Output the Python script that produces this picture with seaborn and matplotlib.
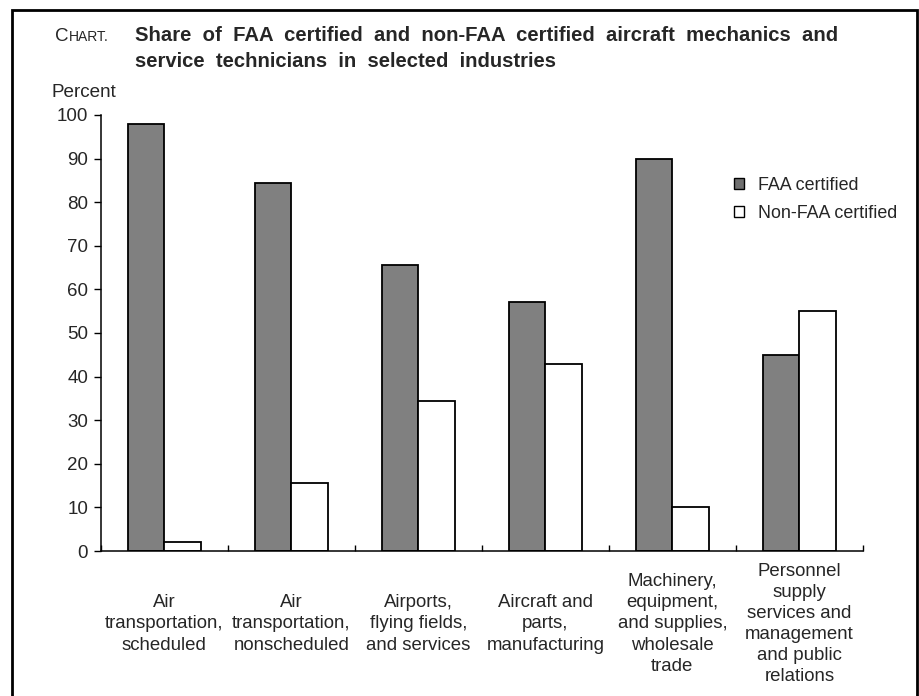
import numpy as np
import pandas as pd
import matplotlib.pyplot as plt
from matplotlib.patches import Patch, Rectangle
import seaborn as sns

sns.set_theme(style="white")
plt.rcParams["font.family"] = ["Liberation Sans", "DejaVu Sans"]

# ---------------------------------------------------------------------------
# Data
# ---------------------------------------------------------------------------
industries = [
    "Air\ntransportation,\nscheduled",
    "Air\ntransportation,\nnonscheduled",
    "Airports,\nflying fields,\nand services",
    "Aircraft and\nparts,\nmanufacturing",
    "Machinery,\nequipment,\nand supplies,\nwholesale\ntrade",
    "Personnel\nsupply\nservices and\nmanagement\nand public\nrelations",
]
faa_certified = [98.0, 84.3, 65.7, 57.1, 89.9, 44.9]
non_faa_certified = [2.0, 15.7, 34.3, 42.9, 10.1, 55.1]
series = ["FAA certified", "Non-FAA certified"]
y_ticks = list(range(0, 101, 10))

df = pd.DataFrame({
    "industry": industries * 2,
    "group": [series[0]] * len(industries) + [series[1]] * len(industries),
    "percent": faa_certified + non_faa_certified,
})

COLORS = {series[0]: "#808080", series[1]: "#ffffff"}
W, H = 920, 696


def fx(px):
    return px / W


def fy(py):
    return 1 - py / H


# ---------------------------------------------------------------------------
# Plot
# ---------------------------------------------------------------------------
fig = plt.figure(figsize=(W / 100, H / 100), dpi=100)
ax = fig.add_axes([fx(100.7), fy(551), fx(863) - fx(100.7), fy(115) - fy(551)])

sns.barplot(
    data=df, x="industry", y="percent", hue="group",
    order=industries, hue_order=series, palette=COLORS,
    width=0.572, edgecolor="black", linewidth=1.3, saturation=1,
    legend=False, ax=ax,
)

ax.set_xlim(-0.5, len(industries) - 0.5)
ax.set_ylim(0, 100)
ax.set_yticks(y_ticks)
ax.set_xlabel("")
ax.set_ylabel("")

for side in ["top", "right"]:
    ax.spines[side].set_visible(False)
for side in ["left", "bottom"]:
    ax.spines[side].set_color("black")
    ax.spines[side].set_linewidth(1.1)

ax.tick_params(axis="y", direction="out", length=5, width=1, color="black",
               labelsize=13.5, pad=4, left=True)
ax.set_xticks(np.arange(-0.5, len(industries)), minor=True)
ax.tick_params(axis="x", which="minor", direction="in", length=4, width=1,
               color="black", bottom=True)
ax.tick_params(axis="x", which="major", length=0, labelsize=13.4, pad=52.5)
for lbl in ax.get_xticklabels():
    lbl.set_verticalalignment("center")
    lbl.set_linespacing(1.32)

# legend
handles = [Patch(facecolor="#707070", edgecolor="black", linewidth=1),
           Patch(facecolor="white", edgecolor="black", linewidth=1)]
fig.legend(handles, series, loc="upper left",
           bbox_to_anchor=(fx(734), fy(177)), frameon=False,
           fontsize=12.9, handlelength=0.58, handleheight=0.58,
           handletextpad=0.75, labelspacing=0.6, borderpad=0,
           borderaxespad=0)

# title block
fig.text(fx(55), fy(41), "C", fontsize=13.5, va="baseline", ha="left")
fig.text(fx(69), fy(41), "HART.", fontsize=10.0, va="baseline", ha="left")
fig.text(fx(135), fy(41),
         "Share  of  FAA  certified  and  non-FAA  certified  aircraft  mechanics  and",
         fontsize=14.6, fontweight="bold", va="baseline", ha="left")
fig.text(fx(135), fy(67), "service  technicians  in  selected  industries",
         fontsize=14.6, fontweight="bold", va="baseline", ha="left")
fig.text(fx(52), fy(97), "Percent", fontsize=13.6, va="baseline", ha="left")

# outer frame (open at the bottom edge)
fig.add_artist(Rectangle((fx(12), -0.05), fx(917) - fx(12), fy(10) + 0.05,
                         transform=fig.transFigure, fill=False,
                         edgecolor="black", linewidth=2))

fig.savefig("out.png", dpi=100)
